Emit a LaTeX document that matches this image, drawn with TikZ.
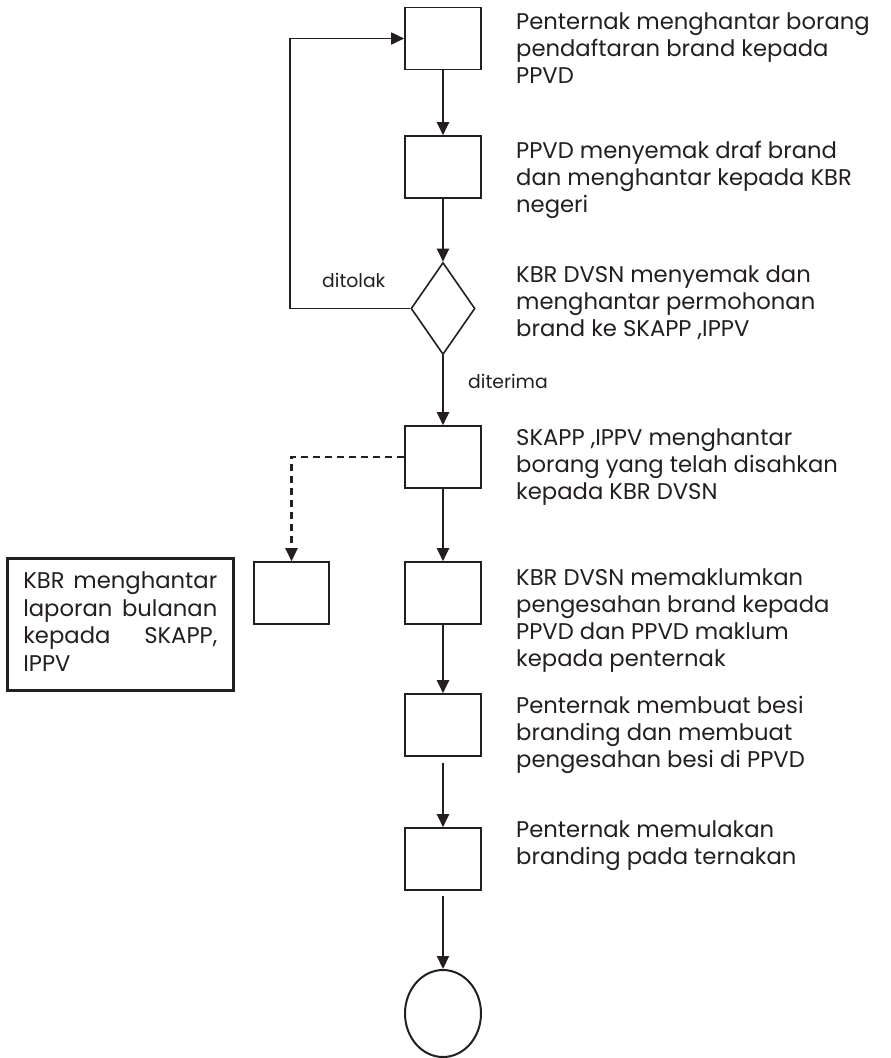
\documentclass[tikz,border=0pt]{standalone}
\usepackage{fontspec}
\setmainfont{Poppins}
\usetikzlibrary{arrows.meta,shapes.geometric}
\definecolor{ink}{HTML}{231F20}
\begin{document}
\begin{tikzpicture}[x=1pt,y=-1pt,
  box/.style={draw=ink, line width=1.6pt, rectangle, minimum width=76pt, minimum height=62pt, inner sep=0pt},
  dec/.style={draw=ink, line width=1.6pt, diamond, minimum width=64pt, minimum height=92pt, inner sep=0pt},
  term/.style={draw=ink, line width=2pt, ellipse, minimum width=76pt, minimum height=87pt, inner sep=0pt},
  flow/.style={draw=ink, line width=2.1pt, -{Triangle[length=13pt,width=12pt]}},
  desc/.style={anchor=north west, inner sep=0pt, align=left, font=\fontsize{22.7}{27}\selectfont, text=ink},
  lbl/.style={anchor=base west, inner sep=0pt, font=\fontsize{18.8}{21}\selectfont, text=ink}]
\useasboundingbox[fill=white] (0,0) rectangle (891,1058);

% flow nodes
\node[box] (b1) at (443,38.5) {};
\node[box] (b2) at (443,167) {};
\node[dec] (d) at (443,308.5) {};
\node[box] (b3) at (443,457) {};
\node[box, minimum width=75pt] (b4) at (291.5,593) {};
\node[box] (b5) at (443,593) {};
\node[box] (b6) at (443,725) {};
\node[box] (b7) at (443,859) {};
\node[term] (e) at (443,1013.5) {};
\coordinate (fbk) at (290,308.5);

% connectors
\draw[flow] (b1.south) -- (b2.north);
\draw[flow] (b2.south) -- (d.north);
\draw[flow, line width=1.7pt] (d.west) -- (fbk) |- (b1.west);
\draw[flow] (d.south) -- (b3.north);
\draw[flow, dash pattern=on 7pt off 5pt] (b3.west) -| (b4.north);
\draw[flow] (b3.south) -- (b5.north);
\draw[flow] (b5.south) -- (b6.north);
\draw[flow, shorten <=6pt] (b6.south) -- (b7.north);
\draw[flow, shorten <=5pt] (b7.south) -- (e.north);

% labels
\node[lbl] (tolak) at (322,287) {ditolak};
\node[lbl] (terima) at (468,388) {diterima};

% descriptions
\node[desc] (t1) at (516,10.1) {\strut Penternak menghantar borang\\pendaftaran brand kepada\\PPVD};
\node[desc] (t2) at (516,139.1) {\strut PPVD menyemak draf brand\\dan menghantar kepada KBR\\negeri};
\node[desc] (t3) at (516,263.1) {\strut KBR DVSN menyemak dan\\menghantar permohonan\\brand ke SKAPP ,IPPV};
\node[desc] (t4) at (516,426.1) {\strut SKAPP ,IPPV menghantar\\borang yang telah disahkan\\kepada KBR DVSN};
\node[desc] (t5) at (516,566.1) {\strut KBR DVSN memaklumkan\\pengesahan brand kepada\\PPVD dan PPVD maklum\\kepada penternak};
\node[desc] (t6) at (516,694.1) {\strut Penternak membuat besi\\branding dan membuat\\pengesahan besi di PPVD};
\node[desc] (t7) at (516,818.1) {\strut Penternak memulakan\\branding pada ternakan};

% side note box
\node[draw=ink, line width=2.6pt, anchor=north west, text width=194pt, inner xsep=16pt, inner ysep=11pt,
      align=justify, font=\fontsize{22.7}{27.5}\selectfont, text=ink] (kbr) at (6,557)
  {\strut KBR menghantar\linebreak laporan bulanan\linebreak kepada SKAPP,\linebreak IPPV\strut};
\end{tikzpicture}
\end{document}
